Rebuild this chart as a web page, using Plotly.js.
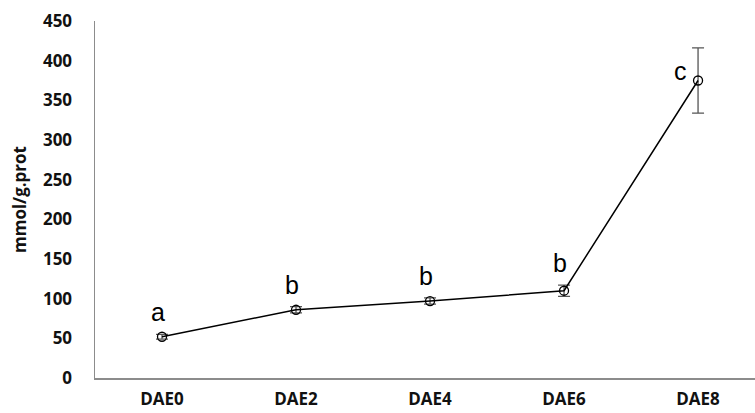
<!DOCTYPE html>
<html>
<head>
<meta charset="utf-8">
<script src="https://cdn.plot.ly/plotly-3.0.1.min.js"></script>
<style>html,body{margin:0;padding:0;background:#fff;}#chart{width:755px;height:413px;}</style>
</head>
<body>
<div id="chart"></div>
<script>
var categories = ["DAE0", "DAE2", "DAE4", "DAE6", "DAE8"];
var values = [52, 86, 97, 110, 375];
var errors = [3, 4, 4, 7, 41];
var letters = ["a", "b", "b", "b", "c"];
var yTicks = [0, 50, 100, 150, 200, 250, 300, 350, 400, 450];

var trace = {
  x: [0, 1, 2, 3, 4],
  y: values,
  type: "scatter",
  mode: "lines+markers",
  line: {color: "#000", width: 1.5},
  marker: {symbol: "circle-open", size: 9, color: "#000", line: {width: 1.3}},
  error_y: {type: "data", array: errors, visible: true, color: "#555", thickness: 1.3, width: 6},
  hoverinfo: "none"
};

var annotations = letters.map(function(l, i) {
  var last = i === categories.length - 1;
  return {
    x: i, y: values[i] + (last ? 0 : errors[i]), xref: "x", yref: "y",
    text: l, showarrow: false,
    xshift: last ? -18 : -4, yshift: last ? 10 : 22,
    font: {family: "Liberation Sans, Arial, sans-serif", size: 25, color: "#000"}
  };
});

var tf = {family: "Open Sans, Noto Sans, sans-serif", size: 17, color: "#111", weight: "bold"};

var layout = {
  width: 755, height: 413,
  margin: {l: 95, r: 0, t: 21, b: 35},
  paper_bgcolor: "#fff", plot_bgcolor: "#fff",
  showlegend: false,
  xaxis: {
    range: [-0.5, 4.425],
    tickmode: "array", tickvals: [0, 1, 2, 3, 4], ticktext: categories,
    showgrid: false, zeroline: false,
    showline: true, linecolor: "#8c8c8c", linewidth: 1.5,
    ticks: "", ticklabelstandoff: 5,
    tickfont: tf
  },
  yaxis: {
    range: [0, 450],
    tickmode: "array", tickvals: yTicks,
    showgrid: false, zeroline: false,
    showline: true, linecolor: "#8c8c8c", linewidth: 1.5,
    ticks: "", ticklabelstandoff: 18,
    tickfont: tf,
    title: {text: "mmol/g.prot", standoff: 12, font: {family: "Open Sans, Noto Sans, sans-serif", size: 17, color: "#111", weight: "bold"}}
  },
  annotations: annotations
};

Plotly.newPlot("chart", [trace], layout, {staticPlot: true, displayModeBar: false});
</script>
</body>
</html>
